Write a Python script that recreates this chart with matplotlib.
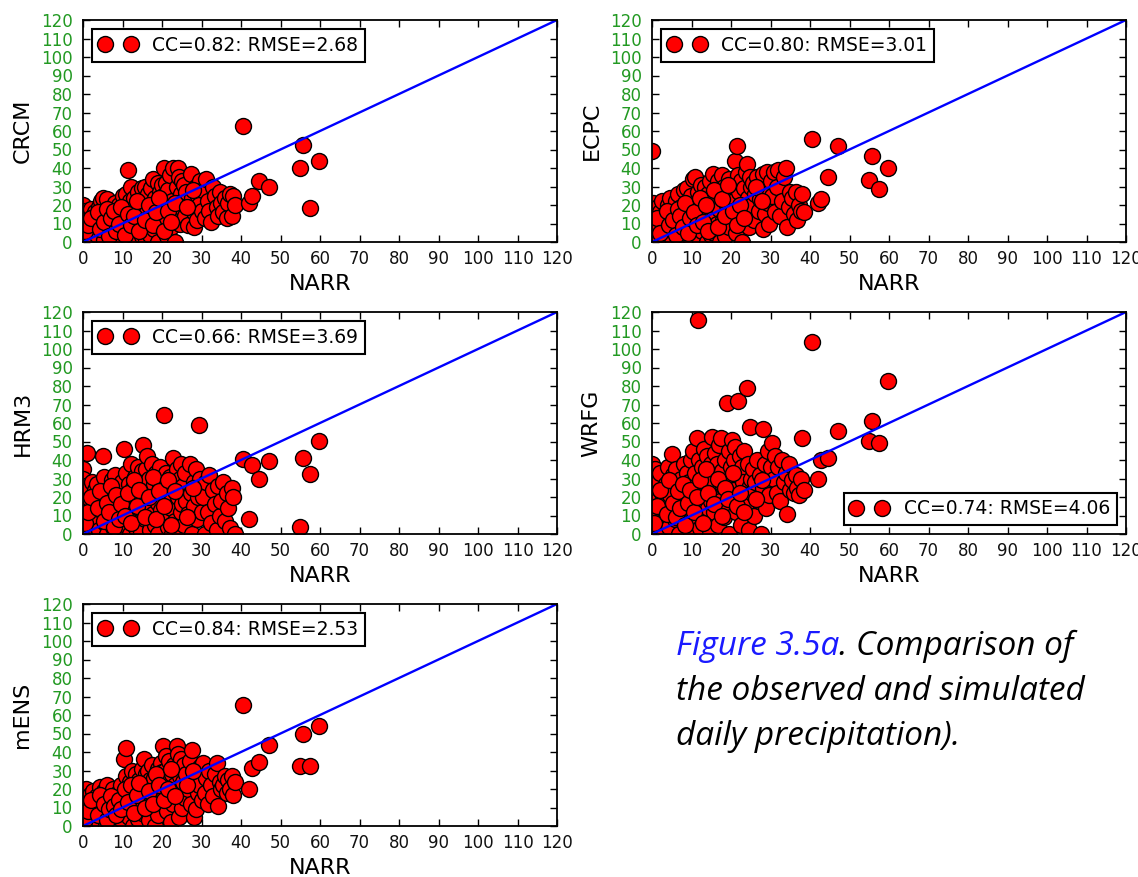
import numpy as np
import matplotlib.pyplot as plt

# NARR observed daily precipitation (shared x for every model panel)
narr = [0.0, 0.0, 0.0, 0.0, 0.3, 0.5, 0.8, 1.0, 1.2, 1.5, 1.8, 2.0, 2.3, 2.6, 2.9, 3.0,
        3.3, 3.6, 4.0, 4.2, 4.6, 5.0, 5.2, 5.5, 5.9, 6.2, 6.5, 6.8, 7.0, 7.3, 7.7, 8.0,
        8.2, 8.6, 8.9, 9.1, 9.4, 9.6, 9.8, 10.0,
        10.3, 10.5, 10.8, 11.0, 11.3, 11.6, 11.9, 12.1, 12.4, 12.7, 13.0, 13.2, 13.5,
        13.8, 14.0, 14.2, 14.5, 14.7, 14.9, 15.0,
        15.3, 15.5, 15.8, 16.0, 16.3, 16.5, 16.8, 17.0, 17.3, 17.5, 17.8, 18.0, 18.3,
        18.6, 18.9, 19.1, 19.4, 19.6, 19.8, 20.0,
        20.3, 20.5, 20.8, 21.0, 21.2, 21.5, 21.8, 22.0, 22.3, 22.6, 22.9, 23.1, 23.4,
        23.7, 24.0, 24.2, 24.5, 24.7, 24.9, 25.0,
        25.3, 25.6, 25.9, 26.2, 26.6, 27.0, 27.3, 27.6, 28.0, 28.2, 28.5, 28.8, 29.0,
        29.3, 29.6, 30.0,
        30.4, 30.8, 31.2, 31.6, 32.0, 32.5, 33.0, 33.4, 33.8, 34.2, 34.6, 35.0,
        35.5, 36.0, 36.4, 36.8, 37.2, 37.6, 38.0, 38.4,
        40.5, 42.0, 42.8, 44.6, 47.0, 55.0, 55.6, 57.5, 59.7,
        0.5, 1.3, 2.1, 3.8, 4.4, 5.3, 6.0, 6.6, 7.2, 7.9, 8.4, 9.0, 9.7, 10.6, 11.4,
        12.2, 12.9, 13.6, 14.3, 15.6, 16.6, 17.6, 18.4, 19.3, 20.6, 21.4, 22.4, 23.3,
        26.4, 27.8]

crcm = [20, 15, 8, 2, 12, 17, 5, 0, 10, 14, 3, 18, 7, 1, 11, 16,
        13, 4, 19, 9, 22, 24, 1, 15, 6, 23, 11, 3, 18, 8, 14, 21, 0, 12, 5, 20, 16, 2, 10, 25,
        7, 18, 26, 13, 39, 2, 22, 30, 10, 16, 24, 5, 20, 0, 27, 12, 17, 8, 29, 3,
        21, 9, 30, 1, 16, 26, 12, 4, 29, 19, 34, 7, 24, 14, 32, 0, 22, 27, 11, 31,
        25, 40, 13, 32, 3, 28, 18, 36, 8, 22, 40, 15, 0, 30, 40, 35, 10, 26, 19, 33,
        22, 31, 14, 27, 9, 19, 37, 24, 8, 16, 30, 12, 25, 20, 33, 17,
        28, 13, 34, 22, 17, 11, 30, 25, 19, 14, 27, 21,
        16, 24, 13, 21, 26, 14, 25, 20,
        62.5, 21, 25, 33, 30, 40, 52.5, 18.5, 44,
        6, 9, 13, 16, 7, 11, 18, 3, 13, 17, 6, 10, 19, 4, 15,
        9, 14, 22, 6, 12, 20, 9, 16, 24, 6, 17, 11, 21, 19, 28]

ecpc = [49, 18, 10, 3, 21, 14, 6, 0, 12, 19, 2, 16, 8, 22, 11, 4,
        15, 5, 20, 10, 24, 2, 17, 13, 7, 22, 26, 0, 12, 19, 4, 28, 9, 16, 29, 21, 3, 11, 25, 14,
        34, 8, 20, 35, 12, 27, 2, 17, 31, 6, 23, 14, 30, 0, 19, 26, 10, 33, 4, 21,
        22, 37, 5, 15, 28, 10, 33, 18, 0, 25, 36, 12, 30, 3, 20, 27, 8, 34, 16, 24,
        31, 14, 22, 44, 5, 52, 36, 27, 11, 33, 0, 18, 29, 38, 42, 24, 8, 35, 15, 30,
        20, 32, 12, 26, 35, 17, 23, 30, 7, 37, 15, 28, 38, 21, 10, 33,
        25, 38, 16, 30, 39, 14, 22, 35, 40, 8, 19, 27,
        24, 15, 27, 12, 20, 17, 26, 16,
        55.5, 21, 23, 35, 52, 33.5, 46.5, 28.5, 40,
        7, 13, 5, 17, 9, 12, 4, 18, 14, 8, 21, 5, 13, 16, 9,
        24, 11, 20, 6, 28, 8, 23, 14, 31, 17, 9, 20, 13, 30, 22]

hrm3 = [35, 22, 8, 30, 15, 3, 26, 44, 12, 0, 19, 5, 28, 10, 17, 24,
        9, 27, 2, 18, 13, 42, 31, 6, 22, 0, 15, 25, 10, 29, 4, 20, 32, 12, 1, 24, 8, 17, 28, 14,
        46, 20, 5, 33, 12, 27, 0, 38, 17, 25, 9, 31, 3, 22, 36, 14, 28, 1, 19, 34,
        48, 24, 8, 35, 42, 15, 30, 2, 20, 38, 11, 27, 5, 33, 17, 0, 25, 36, 13, 30,
        22, 64.5, 10, 33, 27, 4, 18, 31, 14, 0, 41, 25, 7, 35, 20, 2, 30, 12, 38, 16,
        26, 5, 33, 18, 11, 38, 22, 0, 28, 15, 35, 8, 20, 59, 30, 12,
        20, 0, 28, 12, 32, 6, 24, 16, 2, 26, 10, 18,
        28, 7, 22, 14, 3, 25, 20, 0,
        40.5, 8, 37.5, 29.5, 39.5, 4, 41, 32.5, 50.5,
        6, 12, 20, 14, 23, 7, 17, 12, 26, 4, 21, 8, 16, 10, 22,
        6, 29, 15, 24, 9, 20, 31, 8, 23, 15, 29, 5, 23, 9, 25]

wrfg = [38, 30, 20, 8, 25, 14, 35, 2, 18, 28, 10, 33, 5, 22, 15, 0,
        12, 27, 36, 4, 21, 43, 32, 16, 8, 35, 25, 0, 19, 30, 11, 38, 23, 6, 33, 14, 28, 2, 40, 18,
        45, 24, 10, 33, 52, 115.5, 40, 3, 28, 36, 20, 46, 8, 31, 42, 14, 25, 0, 38, 18,
        52.5, 30, 12, 44, 22, 38, 5, 48, 18, 52, 34, 26, 9, 40, 71, 15, 45, 0, 28, 36,
        51, 24, 40, 47, 12, 33, 72, 20, 42, 5, 36, 28, 45, 16, 79, 38, 2, 26, 58, 30,
        22, 35, 10, 28, 40, 18, 32, 0, 56.5, 25, 38, 14, 30, 45, 21, 36,
        49, 30, 42, 22, 36, 18, 40, 28, 33, 11, 38, 24,
        29, 22, 32, 25, 21, 30, 52, 24,
        104, 30, 40, 41, 55.5, 50.5, 61, 49, 82.5,
        6, 15, 24, 11, 29, 17, 9, 23, 14, 27, 5, 17, 24, 12, 20,
        29, 6, 35, 22, 16, 30, 10, 25, 19, 33, 15, 22, 12, 19, 29]

mens = [18, 12, 5, 0, 15, 9, 20, 2, 13, 7, 17, 3, 10, 19, 6, 14,
        8, 16, 2, 21, 11, 5, 19, 14, 0, 22, 10, 17, 4, 13, 20, 7, 15, 1, 18, 9, 12, 22, 3, 16,
        36, 10, 27, 42, 18, 5, 24, 14, 30, 0, 21, 9, 28, 16, 4, 25, 12, 19, 31, 7,
        22, 36, 8, 28, 15, 30, 3, 25, 18, 33, 11, 26, 0, 20, 31, 6, 24, 14, 34, 29,
        43, 16, 30, 38, 8, 25, 35, 19, 2, 28, 12, 33, 22, 43, 39, 5, 27, 18, 36, 10,
        24, 33, 15, 28, 20, 35, 12, 41, 5, 26, 9, 30, 18, 22, 32, 14,
        34, 18, 26, 12, 30, 22, 16, 28, 34, 11, 24, 20,
        22, 27, 18, 25, 20, 27, 17, 24,
        65.5, 20, 31.5, 34.5, 44, 32.5, 50, 32.5, 54,
        4, 8, 14, 6, 17, 12, 3, 9, 16, 11, 6, 14, 9, 20, 13,
        22, 7, 17, 23, 10, 19, 12, 28, 22, 14, 20, 31, 16, 22, 30]

model_names = ['CRCM', 'ECPC', 'HRM3', 'WRFG', 'mENS']
model_values = [crcm, ecpc, hrm3, wrfg, mens]
cc = [0.82, 0.80, 0.66, 0.74, 0.84]
rmse = [2.68, 3.01, 3.69, 4.06, 2.53]
legend_loc = ['upper left', 'upper left', 'upper left', 'lower right', 'upper left']

W, H = 1138, 877
# axes boxes in pixels: left, top (all the same size)
boxes = [(83, 20), (652, 20), (83, 312), (652, 312), (83, 604)]
aw, ah = 474, 222

fig = plt.figure(figsize=(W / 100, H / 100), dpi=100)

for (left, top), name, vals, c, r, loc in zip(boxes, model_names, model_values, cc, rmse, legend_loc):
    ax = fig.add_axes([left / W, 1 - (top + ah) / H, aw / W, ah / H])
    ax.plot(narr, vals, 'o', color='red', markeredgecolor='black', markersize=11.5,
            markeredgewidth=1.0, label='CC=%.2f: RMSE=%.2f' % (c, r))
    ax.plot([0, 120], [0, 120], color='#0000ff', lw=1.7)
    ax.set_xlim(0, 120)
    ax.set_ylim(0, 120)
    ax.set_xticks(np.arange(0, 121, 10))
    ax.set_yticks(np.arange(0, 121, 10))
    ax.tick_params(direction='in', top=True, right=True, length=5, width=1, labelsize=12)
    ax.tick_params(axis='x', pad=6, labelcolor='#111111')
    ax.tick_params(axis='y', pad=7.5, labelcolor='#229922')
    for s in ax.spines.values():
        s.set_linewidth(1.3)
    ax.set_xlabel('NARR', fontsize=16, labelpad=4)
    ax.set_ylabel(name, fontsize=16, labelpad=6)
    leg = ax.legend(loc=loc, numpoints=2, fontsize=13.5, fancybox=False,
                    framealpha=1, borderpad=0.35, handletextpad=0.85, borderaxespad=0.5)
    leg.get_frame().set_edgecolor('black')
    leg.get_frame().set_linewidth(1.5)

# caption in the free lower-right corner
cap = dict(fontsize=24, style='italic', family=['Open Sans', 'DejaVu Sans'])
x0 = 676 / W
t1 = fig.text(x0, 1 - 655 / H, 'Figure 3.5a', color='#1a1aff', **cap)
fig.canvas.draw()
bb = t1.get_window_extent()
fig.text(bb.x1 / W, 1 - 655 / H, '. Comparison of', color='black', **cap)
fig.text(x0, 1 - 700 / H, 'the observed and simulated', color='black', **cap)
fig.text(x0, 1 - 745 / H, 'daily precipitation).', color='black', **cap)

fig.savefig('out.png', dpi=100)
